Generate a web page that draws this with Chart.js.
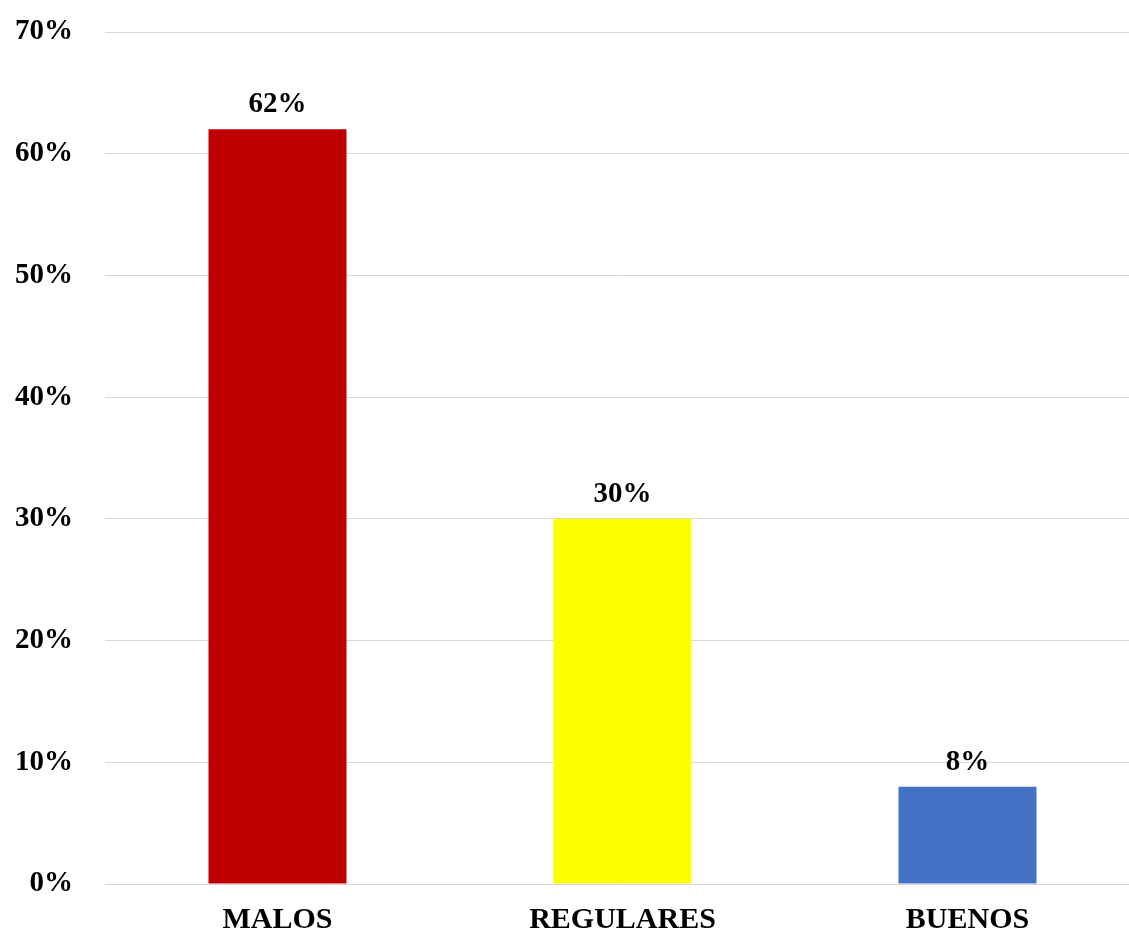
<!DOCTYPE html>
<html>
<head>
<meta charset="utf-8">
<script src="https://cdn.jsdelivr.net/npm/chart.js@4/dist/chart.umd.min.js"></script>
<style>
  html, body { margin: 0; padding: 0; background: #fff; overflow: hidden; }
  #wrap { width: 1129px; height: 934px; overflow: hidden; }
</style>
</head>
<body>
<div id="wrap"><canvas id="c" width="1145" height="934"></canvas></div>
<script>
// chart data
var categories = ['MALOS', 'REGULARES', 'BUENOS'];
var values = [62, 30, 8];
var barColors = ['#C00000', '#FFFF00', '#4472C4'];
var yTicks = [0, 10, 20, 30, 40, 50, 60, 70];

var font = 'bold 29px "Liberation Serif", "Times New Roman", serif';

// labels above each bar
var valueLabels = {
    id: 'valueLabels',
    afterDatasetsDraw: function(chart) {
        var ctx = chart.ctx;
        var meta = chart.getDatasetMeta(0);
        ctx.save();
        ctx.font = font;
        ctx.fillStyle = '#000';
        ctx.textAlign = 'center';
        ctx.textBaseline = 'alphabetic';
        meta.data.forEach(function(bar, i) {
            ctx.fillText(values[i] + '%', bar.x, bar.y - 17);
        });
        ctx.restore();
    }
};

var chart = new Chart(document.getElementById('c'), {
    type: 'bar',
    data: {
        labels: categories,
        datasets: [{
            data: values,
            backgroundColor: barColors,
            borderWidth: 0,
            barPercentage: 0.4,
            categoryPercentage: 1
        }]
    },
    options: {
        responsive: false,
        animation: false,
        layout: { padding: { top: 32, right: 5, left: 0, bottom: 0 } },
        plugins: {
            legend: { display: false },
            tooltip: { enabled: false }
        },
        scales: {
            x: {
                grid: { display: false, drawTicks: false },
                border: { display: false },
                ticks: {
                    color: '#000',
                    font: { family: '"Liberation Serif", serif', size: 30, weight: 'bold' },
                    padding: 18
                },
                afterFit: function(s) { s.height = 50; }
            },
            y: {
                min: 0,
                max: 70,
                afterBuildTicks: function(s) {
                    s.ticks = yTicks.map(function(v) { return { value: v }; });
                },
                grid: { color: '#d9d9d9', lineWidth: 1, drawTicks: false },
                border: { display: false },
                ticks: {
                    color: '#000',
                    font: { family: '"Liberation Serif", serif', size: 29, weight: 'bold' },
                    padding: 32,
                    callback: function(v) { return v + '%'; }
                },
                afterFit: function(s) {
                    s.width = 105;
                    s.paddingTop = 0;
                    s.paddingBottom = 0;
                }
            }
        }
    },
    plugins: [valueLabels]
});
</script>
</body>
</html>
